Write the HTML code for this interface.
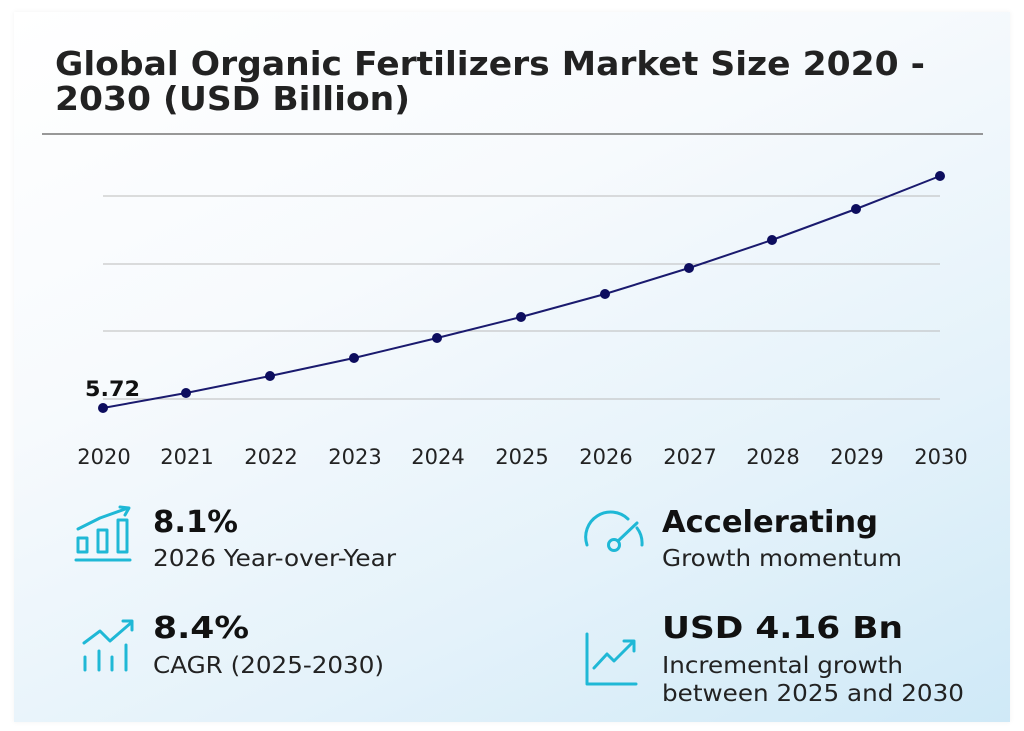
<!DOCTYPE html>
<html><head><meta charset="utf-8"><style>
html,body{margin:0;padding:0;background:#fff;width:1024px;height:731px;overflow:hidden}
.card{position:absolute;left:14px;top:12px;width:996px;height:710px;background:linear-gradient(155deg,#ffffff 0%,#f7fafd 35%,#e4f2fa 70%,#cfe9f7 100%);box-shadow:0 0 5px rgba(0,0,0,0.06)}
svg{position:absolute;left:0;top:0}
text{font-family:"DejaVu Sans","Liberation Sans",sans-serif}
</style></head><body>
<div class="card"></div>
<svg width="1024" height="731" viewBox="0 0 1024 731">
<text x="55" y="75" font-size="33" font-weight="bold" fill="#222" textLength="870" lengthAdjust="spacingAndGlyphs">Global Organic Fertilizers Market Size 2020 -</text>
<text x="55" y="110" font-size="33" font-weight="bold" fill="#222" textLength="355" lengthAdjust="spacingAndGlyphs">2030 (USD Billion)</text>
<line x1="42" y1="134" x2="983" y2="134" stroke="#777" stroke-width="1.5"/>
<g stroke="#bbb" stroke-width="1">
<line x1="103" y1="196" x2="940" y2="196"/><line x1="103" y1="264" x2="940" y2="264"/>
<line x1="103" y1="331" x2="940" y2="331"/><line x1="103" y1="399" x2="940" y2="399"/>
</g>
<polyline fill="none" stroke="#1a1a6e" stroke-width="2" points="103,408 186,393 270,376 354,358 437,338 521,317 605,294 689,268 772,240 856,209 940,176"/>
<g fill="#0d0d5e">
<circle cx="103" cy="408" r="5"/><circle cx="186" cy="393" r="5"/><circle cx="270" cy="376" r="5"/><circle cx="354" cy="358" r="5"/><circle cx="437" cy="338" r="5"/><circle cx="521" cy="317" r="5"/><circle cx="605" cy="294" r="5"/><circle cx="689" cy="268" r="5"/><circle cx="772" cy="240" r="5"/><circle cx="856" cy="209" r="5"/><circle cx="940" cy="176" r="5"/>
</g>
<text x="85" y="396" font-size="21" font-weight="bold" fill="#111" textLength="55" lengthAdjust="spacingAndGlyphs">5.72</text>
<g font-size="21" fill="#222" text-anchor="middle">
<text x="104" y="464">2020</text><text x="187" y="464">2021</text><text x="271" y="464">2022</text><text x="355" y="464">2023</text><text x="438" y="464">2024</text><text x="522" y="464">2025</text><text x="606" y="464">2026</text><text x="690" y="464">2027</text><text x="773" y="464">2028</text><text x="857" y="464">2029</text><text x="941" y="464">2030</text>
</g>
<g fill="none" stroke="#1fb8d6" stroke-width="3" stroke-linecap="round" stroke-linejoin="round">
<line x1="76" y1="560" x2="130" y2="560"/>
<rect x="78" y="538" width="9" height="14"/><rect x="98" y="530" width="9" height="22"/><rect x="118" y="520" width="9" height="32"/>
<polyline points="78,529 100,518 128,508"/><polyline points="120,507 129,508 125,515"/>
<line x1="85" y1="657" x2="85" y2="670"/><line x1="99" y1="651" x2="99" y2="670"/><line x1="112" y1="657" x2="112" y2="670"/><line x1="126" y1="645" x2="126" y2="670"/>
<polyline points="84,643 100,631 110,641 132,622"/><polyline points="123,621 132,621 132,630"/>
<path d="M587,545 A25,25 0 0 1 628,519"/><path d="M637,528 A25,25 0 0 1 642,545"/>
<circle cx="614" cy="545" r="5.5"/><line x1="618" y1="541" x2="637" y2="523"/>
<polyline points="587,634 587,684 636,684"/>
<polyline points="594,668 607,654 614,661 632,643"/><polyline points="624,641 634,641 634,651"/>
</g>
<g fill="#111">
<text x="153" y="532" font-size="30" font-weight="bold" textLength="85" lengthAdjust="spacingAndGlyphs">8.1%</text>
<text x="153" y="566" font-size="23" fill="#222" textLength="243" lengthAdjust="spacingAndGlyphs">2026 Year-over-Year</text>
<text x="153" y="638" font-size="30" font-weight="bold" textLength="96" lengthAdjust="spacingAndGlyphs">8.4%</text>
<text x="153" y="673" font-size="23" fill="#222" textLength="231" lengthAdjust="spacingAndGlyphs">CAGR (2025-2030)</text>
<text x="662" y="532" font-size="30" font-weight="bold" textLength="216" lengthAdjust="spacingAndGlyphs">Accelerating</text>
<text x="662" y="566" font-size="23" fill="#222" textLength="240" lengthAdjust="spacingAndGlyphs">Growth momentum</text>
<text x="662" y="638" font-size="30" font-weight="bold" textLength="241" lengthAdjust="spacingAndGlyphs">USD 4.16 Bn</text>
<text x="662" y="673" font-size="23" fill="#222" textLength="241" lengthAdjust="spacingAndGlyphs">Incremental growth</text>
<text x="662" y="701" font-size="23" fill="#222" textLength="302" lengthAdjust="spacingAndGlyphs">between 2025 and 2030</text>
</g>
</svg>
</body></html>
